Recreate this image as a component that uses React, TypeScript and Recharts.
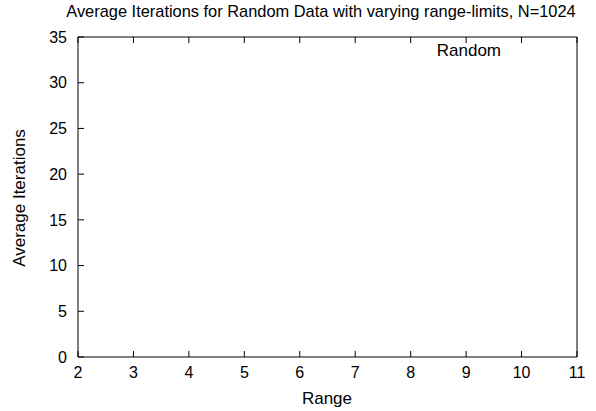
import React from 'react'
import { LineChart, Line, XAxis, YAxis } from 'recharts'

// range-limits on the x axis
const rangeTicks = [2, 3, 4, 5, 6, 7, 8, 9, 10, 11]
const iterationTicks = [0, 5, 10, 15, 20, 25, 30, 35]

// the "Random" series has no points inside the plotted window
const ranges = [2, 3, 4, 5, 6, 7, 8, 9, 10, 11]
const randomIterations: (number | null)[] = [null, null, null, null, null, null, null, null, null, null]

const data = ranges.map((r, i) => ({ range: r, random: randomIterations[i] }))

const FONT = '"Liberation Sans", Arial, Helvetica, sans-serif'
const TICK = 6
const BOTTOM_GAP = 3
const LEFT_GAP = 5

// gnuplot style: tick marks point into the plot.
// recharts hands the label position, which sits TICK + margin outside the axis line
function BottomTick({ x, y, payload }: any) {
    const axisY = y - BOTTOM_GAP - TICK
    return (
        <g>
            <line x1={x} y1={axisY} x2={x} y2={axisY - TICK} stroke="#000" />
            <text x={x} y={y} dy="0.72em" textAnchor="middle" fontFamily={FONT} fontSize={16} fill="#000">
                {payload.value}
            </text>
        </g>
    )
}

function LeftTick({ x, y, payload }: any) {
    const axisX = x + LEFT_GAP + TICK
    return (
        <g>
            <line x1={axisX} y1={y} x2={axisX + TICK} y2={y} stroke="#000" />
            <text x={x} y={y} dy="0.36em" textAnchor="end" fontFamily={FONT} fontSize={16} fill="#000">
                {payload.value}
            </text>
        </g>
    )
}

function TopTick({ x, y }: any) {
    const axisY = y + TICK
    return <line x1={x} y1={axisY} x2={x} y2={axisY + TICK} stroke="#000" />
}

function RightTick({ x, y }: any) {
    const axisX = x - TICK
    return <line x1={axisX} y1={y} x2={axisX - TICK} y2={y} stroke="#000" />
}

export default function App() {
    const axisStyle = { stroke: '#000', strokeWidth: 1 }

    return (
        <div style={{ position: 'absolute', left: 0, top: 0, width: 596, height: 411, background: '#fff' }}>
            <LineChart
                width={596}
                height={411}
                data={data}
                margin={{ top: 36, right: 18, bottom: 14, left: 10 }}
            >
                <XAxis
                    dataKey="range"
                    type="number"
                    domain={[2, 11]}
                    ticks={rangeTicks}
                    allowDataOverflow
                    height={40}
                    axisLine={axisStyle}
                    tickLine={false}
                    tickSize={TICK}
                    tickMargin={BOTTOM_GAP}
                    tick={<BottomTick />}
                    interval={0}
                />
                <XAxis
                    xAxisId="top"
                    orientation="top"
                    dataKey="range"
                    type="number"
                    domain={[2, 11]}
                    ticks={rangeTicks}
                    height={1}
                    axisLine={axisStyle}
                    tickLine={false}
                    tickSize={TICK}
                    tickMargin={0}
                    tick={<TopTick />}
                    interval={0}
                />
                <YAxis
                    type="number"
                    domain={[0, 35]}
                    ticks={iterationTicks}
                    allowDataOverflow
                    width={68}
                    axisLine={axisStyle}
                    tickLine={false}
                    tickSize={TICK}
                    tickMargin={LEFT_GAP}
                    tick={<LeftTick />}
                    interval={0}
                />
                <YAxis
                    yAxisId="right"
                    orientation="right"
                    type="number"
                    domain={[0, 35]}
                    ticks={iterationTicks}
                    width={1}
                    axisLine={axisStyle}
                    tickLine={false}
                    tickSize={TICK}
                    tickMargin={0}
                    tick={<RightTick />}
                    interval={0}
                />
                <Line
                    dataKey="random"
                    name="Random"
                    stroke="#d00000"
                    strokeWidth={1}
                    dot={false}
                    connectNulls={false}
                    isAnimationActive={false}
                />
                <Line
                    xAxisId="top"
                    yAxisId="right"
                    dataKey="random"
                    stroke="none"
                    dot={false}
                    legendType="none"
                    isAnimationActive={false}
                />
                {/* key entry */}
                <text x={501} y={56} textAnchor="end" fontFamily={FONT} fontSize={17} fill="#000">
                    Random
                </text>
                <text x={321} y={17} textAnchor="middle" fontFamily={FONT} fontSize={16.4} fill="#000">
                    Average Iterations for Random Data with varying range-limits, N=1024
                </text>
                <text x={327} y={404} textAnchor="middle" fontFamily={FONT} fontSize={17} fill="#000">
                    Range
                </text>
                <text
                    x={25}
                    y={198}
                    textAnchor="middle"
                    fontFamily={FONT}
                    fontSize={17}
                    fill="#000"
                    transform="rotate(-90 25 198)"
                >
                    Average Iterations
                </text>
            </LineChart>
        </div>
    )
}
